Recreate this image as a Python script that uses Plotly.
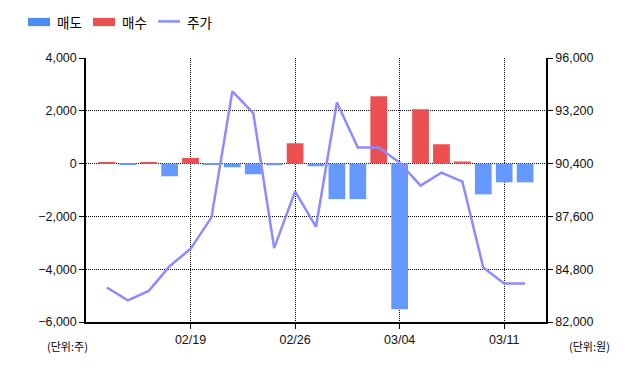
import plotly.graph_objects as go

dates = ["02/13", "02/14", "02/15", "02/16", "02/19", "02/20", "02/21", "02/22",
         "02/23", "02/26", "02/27", "02/28", "02/29", "03/01", "03/04", "03/05",
         "03/06", "03/07", "03/08", "03/11", "03/12"]
net_volume = [40, -20, 40, -480, 215, -20, -140, -405, -60, 770, -100, -1345,
              -1345, 2555, -5520, 2063, 733, 80, -1165, -710, -710]
price = [83830, 83150, 83650, 84960, 85880, 87550, 94230, 93080, 85920, 88930,
         87050, 93640, 91250, 91250, 90450, 89230, 89920, 89440, 84890, 84040, 84040]
tick_dates = ["02/19", "02/26", "03/04", "03/11"]
left_ticks = [-6000, -4000, -2000, 0, 2000, 4000]
right_ticks = [82000, 84800, 87600, 90400, 93200, 96000]

sell = [v if v < 0 else None for v in net_volume]
buy = [v if v > 0 else None for v in net_volume]

BLUE = "#6699FF"
RED = "#EB4F50"
LINE = "#8C8CFF"
FONT = "Liberation Sans, Arial, sans-serif"
KFONT = "Noto Sans CJK KR, sans-serif"
DOT = "1px,1px"

fig = go.Figure()
fig.add_trace(go.Bar(x=dates, y=sell, name="매도", marker_color=BLUE, width=0.8,
                     marker_line_width=0, showlegend=False))
fig.add_trace(go.Bar(x=dates, y=buy, name="매수", marker_color=RED, width=0.8,
                     marker_line_width=0, showlegend=False))
fig.add_trace(go.Scatter(x=dates, y=price, name="주가", mode="lines", yaxis="y2",
                         line=dict(color=LINE, width=2.5), showlegend=False))

fig.update_layout(
    width=640, height=368,
    margin=dict(l=86, r=94, t=58, b=46),
    paper_bgcolor="white", plot_bgcolor="white",
    barmode="relative",
    font=dict(family=FONT, size=12, color="#111"),
    xaxis=dict(type="category", range=[-1, 21], tickmode="array",
               tickvals=tick_dates, ticktext=tick_dates,
               showgrid=True, gridcolor="black", griddash=DOT, gridwidth=1,
               showline=True, linecolor="black", linewidth=1.5,
               ticks="outside", ticklen=5, tickcolor="black",
               tickfont=dict(family=FONT, size=12.5), zeroline=False),
    yaxis=dict(range=[-6000, 4000], tickmode="array", tickvals=left_ticks,
               tickformat=",d", showgrid=True, gridcolor="black", griddash=DOT,
               gridwidth=1, showline=True, linecolor="black", linewidth=1.5,
               ticks="outside", ticklen=5, tickcolor="black", zeroline=False,
               tickfont=dict(family=FONT, size=12.5)),
    yaxis2=dict(range=[82000, 96000], tickmode="array", tickvals=right_ticks,
                tickformat=",d", overlaying="y", side="right", showgrid=False,
                showline=True, linecolor="black", linewidth=1.5,
                ticks="outside", ticklen=5, tickcolor="black", zeroline=False,
                tickfont=dict(family=FONT, size=12.5)),
)

# manual legend (pixel -> paper conversion)
def px(xp):
    return (xp - 86) / 460.0

def py(yp):
    return (321.7 - yp) / 263.4

shapes = [
    dict(type="rect", xref="paper", yref="paper", x0=px(28), x1=px(50), y0=py(26.5), y1=py(18.3),
         fillcolor="#4A8CF0", line_width=0),
    dict(type="rect", xref="paper", yref="paper", x0=px(93), x1=px(115), y0=py(26.5), y1=py(18.3),
         fillcolor=RED, line_width=0),
    dict(type="line", xref="paper", yref="paper", x0=px(158), x1=px(180), y0=py(21.8), y1=py(21.8),
         line=dict(color=LINE, width=2.5)),
]
fig.update_layout(shapes=shapes)

ann = [
    ("매도", 55, 22), ("매수", 120, 22), ("주가", 185, 22),
]
for text, x, y in ann:
    fig.add_annotation(text=text, xref="paper", yref="paper", x=px(x), y=py(y),
                       xanchor="left", yanchor="middle", showarrow=False,
                       font=dict(family=KFONT, size=13.5, color="black"))
fig.add_annotation(text="(단위:주)", xref="paper", yref="paper", x=px(45), y=py(346),
                   xanchor="left", yanchor="middle", showarrow=False,
                   font=dict(family=KFONT, size=11, color="black"))
fig.add_annotation(text="(단위:원)", xref="paper", yref="paper", x=px(567), y=py(346),
                   xanchor="left", yanchor="middle", showarrow=False,
                   font=dict(family=KFONT, size=11, color="black"))

fig.write_html("out.html", config={"displayModeBar": False},
               post_script="document.body.style.margin='0';document.body.style.overflow='hidden';")
